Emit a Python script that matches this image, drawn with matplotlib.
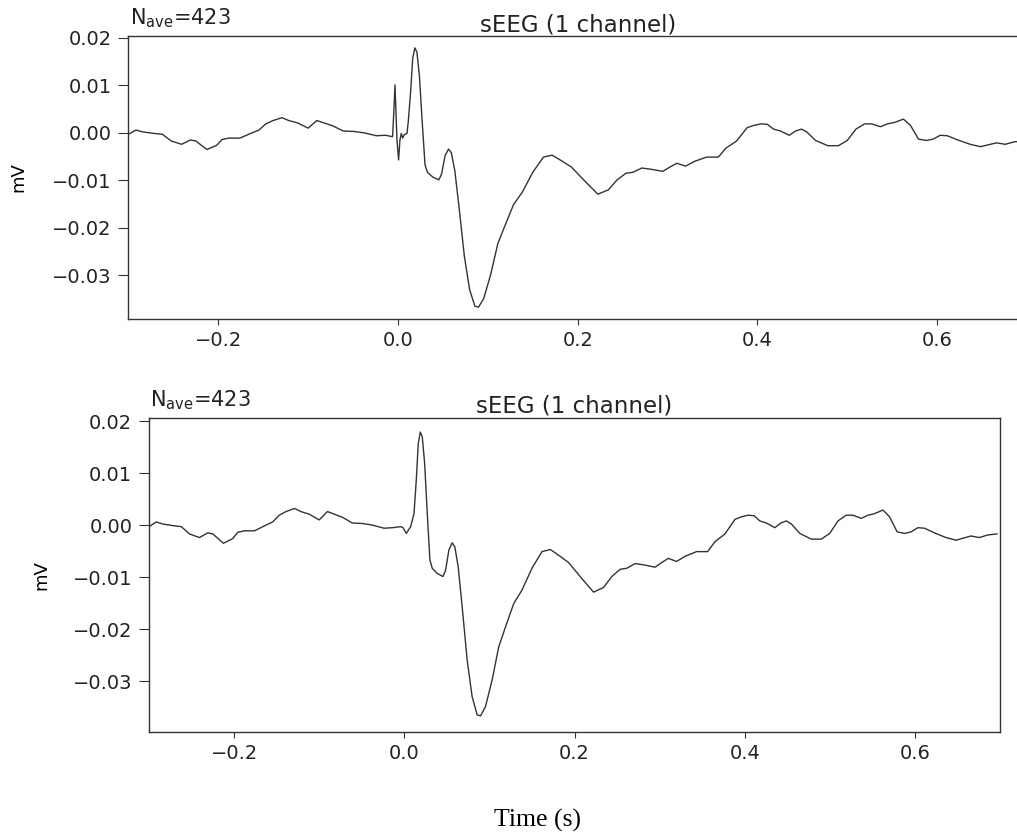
import numpy as np
import matplotlib
matplotlib.use("Agg")
import matplotlib.pyplot as plt

plt.rcParams['font.family'] = ['DejaVu Sans']
plt.rcParams['mathtext.fontset'] = 'dejavusans'

# evoked sEEG response (mV), artifact-free channel
times = [-0.3, -0.2915, -0.2837, -0.272, -0.262, -0.2524, -0.2407, -0.231, -0.225,
         -0.2126, -0.2016, -0.1958, -0.188, -0.176, -0.1625, -0.1547, -0.147, -0.139,
         -0.129, -0.1215, -0.1117, -0.1, -0.0903, -0.0727, -0.061, -0.049, -0.0375,
         -0.0238, -0.014, -0.0042, -0.0015, 0.0023, 0.0075, 0.0114, 0.0141, 0.0164,
         0.0188, 0.0211, 0.0239, 0.027, 0.0301, 0.0328, 0.0387, 0.0454, 0.0485, 0.0524,
         0.0563, 0.0594, 0.0633, 0.068, 0.0739, 0.0797, 0.0856, 0.0896, 0.0954, 0.1032,
         0.111, 0.1189, 0.1286, 0.1383, 0.15, 0.1618, 0.1716, 0.1814, 0.193, 0.2087,
         0.2224, 0.2341, 0.2438, 0.2537, 0.2614, 0.2713, 0.283, 0.2947, 0.3025, 0.3103,
         0.32, 0.3299, 0.3435, 0.3564, 0.365, 0.3768, 0.3885, 0.3963, 0.4041, 0.4111,
         0.4178, 0.4255, 0.4354, 0.4424, 0.449, 0.4549, 0.4647, 0.4783, 0.49, 0.4999,
         0.5096, 0.5193, 0.5272, 0.5369, 0.5448, 0.5526, 0.5624, 0.5702, 0.5791, 0.5878,
         0.5956, 0.6034, 0.6113, 0.623, 0.6366, 0.6483, 0.6659, 0.6757, 0.6855, 0.6964]
clean = [-0.0003, 0.0006, 0.0002, -0.0001, -0.0003, -0.0017, -0.0024, -0.0015, -0.0017,
         -0.0035, -0.0026, -0.0014, -0.0011, -0.0011, 0.0, 0.0006, 0.0019, 0.0026,
         0.0032, 0.0026, 0.0021, 0.001, 0.0026, 0.0015, 0.0004, 0.0003, 0.0,
         -0.0006, -0.0005, -0.0003, -0.0005, -0.0016, -0.0003, 0.0022, 0.0087, 0.0157,
         0.0179, 0.017, 0.0119, 0.0022, -0.0067, -0.0083, -0.0093, -0.0099, -0.0087, -0.0048,
         -0.0034, -0.0042, -0.008, -0.0157, -0.026, -0.033, -0.0365, -0.0367, -0.0349, -0.0298,
         -0.0234, -0.0196, -0.0151, -0.0125, -0.0083, -0.0051, -0.0047, -0.0058, -0.0072, -0.0103,
         -0.0129, -0.012, -0.0099, -0.0085, -0.0083, -0.0074, -0.0077, -0.0081, -0.0072, -0.0064,
         -0.007, -0.006, -0.0051, -0.0051, -0.0032, -0.0017, 0.0011, 0.0016, 0.0019, 0.0018,
         0.0008, 0.0004, -0.0005, 0.0004, 0.0008, 0.0002, -0.0016, -0.0027, -0.0027, -0.0016,
         0.0008, 0.0019, 0.0019, 0.0013, 0.0019, 0.0022, 0.0029, 0.0016, -0.0013, -0.0016,
         -0.0013, -0.0005, -0.0006, -0.0015, -0.0024, -0.0029, -0.0021, -0.0024, -0.0019, -0.0017]

# stimulation artifact present in the raw average
artifact_t = [-0.006, -0.0045, -0.0033, -0.0022, -0.0011, 0.0007, 0.0022, 0.0037,
              0.0052, 0.007, 0.01]
artifact_v = [-0.0008, 0.0049, 0.0101, 0.0042, -0.0015, -0.0057, -0.0015, -0.0001,
              -0.0011, -0.0004, -0.0001]

nave = 423
title = "sEEG (1 channel)"
xticks = [-0.2, 0.0, 0.2, 0.4, 0.6]
yticks = [-0.03, -0.02, -0.01, 0.00, 0.01, 0.02]

t = np.array(times)
v = np.array(clean)
keep = (t < -0.0065) | (t > 0.0105)
raw_t = np.concatenate([t[keep], artifact_t])
raw_v = np.concatenate([v[keep], artifact_v])
order = np.argsort(raw_t)
raw_t, raw_v = raw_t[order], raw_v[order]

fig = plt.figure(figsize=(10.17, 8.36), dpi=100)
ax1 = fig.add_axes([0.1262, 0.6184, 0.8837, 0.3385])
ax2 = fig.add_axes([0.1465, 0.1244, 0.8368, 0.3756])

panels = [(ax1, raw_t, raw_v, (-0.0392, 0.0204), 2.5, -0.112),
          (ax2, t, v, (-0.0398, 0.0206), 4.0, -0.116)]

for ax, x, y, ylim, tpad, labx in panels:
    ax.plot(x, y, color='#333333', lw=1.0)
    ax.set_xlim(-0.3, 0.7)
    ax.set_ylim(*ylim)
    ax.set_xticks(xticks)
    ax.set_yticks(yticks)
    ax.tick_params(axis='x', labelsize=14, length=4, pad=4.5, color='#333333',
                   labelcolor='#222222')
    ax.tick_params(axis='y', labelsize=14, length=7, pad=5, color='#333333',
                   labelcolor='#222222')
    for s in ax.spines.values():
        s.set_color('#333333')
        s.set_linewidth(1.0)
    ax.set_title(title, fontsize=16.5, pad=tpad, color='#222222')
    ax.set_ylabel('mV', fontsize=13)
    ax.yaxis.set_label_coords(labx, 0.5)
    ax.annotate(r'N$_{\mathrm{ave}}$=%d' % nave, xy=(0, 1), xycoords='axes fraction',
                xytext=(1, 8.5), textcoords='offset points', fontsize=15,
                ha='left', va='baseline', color='#222222')

fig.text(537 / 1017, 9 / 836, 'Time (s)', ha='center', va='baseline',
         fontsize=18.5, family=['Liberation Serif', 'DejaVu Serif'])

fig.savefig('out.png', dpi=100)
